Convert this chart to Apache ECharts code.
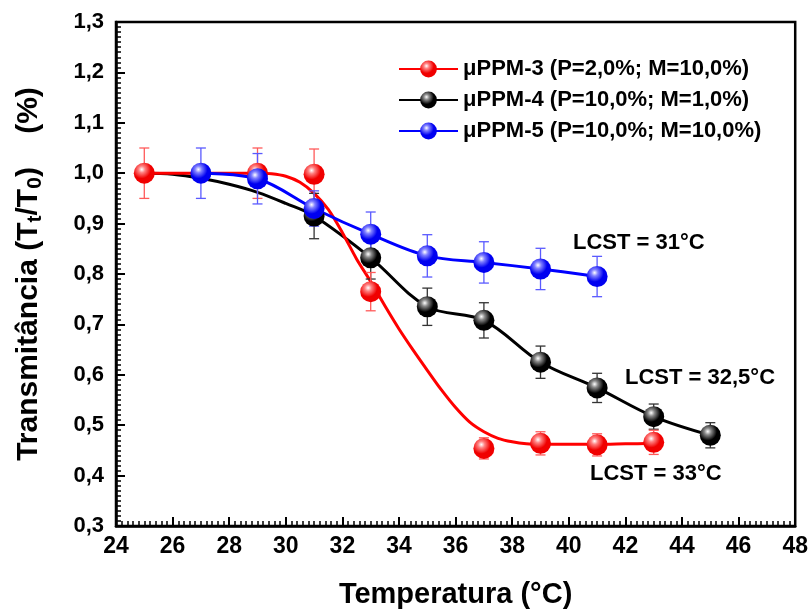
<!DOCTYPE html>
<html>
<head>
<meta charset="utf-8">
<script src="https://cdn.jsdelivr.net/npm/echarts@6/dist/echarts.min.js"></script>
<style>
  html, body { margin: 0; background: #fff; }
  #chart { width: 811px; height: 614px; }
</style>
</head>
<body>
<div id="chart"></div>
<script>
// measured points: [temperatura, transmitancia, erro]
var ppm3Points = [[25, 1.0, 0.05], [29, 1.0, 0.05], [31, 0.998, 0.05], [33, 0.765, 0.038],
  [37, 0.454, 0.021], [39, 0.464, 0.023], [41, 0.461, 0.022], [43, 0.466, 0.024]];
var ppm4Points = [[31, 0.915, 0.045], [33, 0.832, 0.042], [35, 0.735, 0.037], [37, 0.708, 0.035],
  [39, 0.625, 0.032], [41, 0.574, 0.029], [43, 0.517, 0.025], [45, 0.48, 0.025]];
var ppm5Points = [[27, 1.0, 0.05], [29, 0.989, 0.05], [31, 0.93, 0.035], [33, 0.879, 0.044],
  [35, 0.836, 0.042], [37, 0.823, 0.041], [39, 0.81, 0.041], [41, 0.795, 0.04]];

// fitted curves
var ppm3Fit = [[25, 1.0], [26, 1.0], [27, 1.0], [28, 1.0], [29, 1.0], [29.5, 0.999], [30, 0.994],
  [30.5, 0.982], [31, 0.96], [31.5, 0.928], [32, 0.882], [32.5, 0.83], [33, 0.785], [33.5, 0.737],
  [34, 0.691], [34.5, 0.649], [35, 0.609], [35.5, 0.57], [36, 0.535], [36.5, 0.506], [37, 0.487],
  [37.5, 0.474], [38, 0.467], [38.5, 0.463], [39, 0.462], [40, 0.462], [41, 0.462], [42, 0.463], [43, 0.464]];
var ppm4Fit = [[25, 1.0], [26, 0.998], [27, 0.99], [28, 0.978], [29, 0.962], [30, 0.94], [31, 0.915],
  [33, 0.832], [35, 0.735], [37, 0.708], [39, 0.625], [41, 0.574], [43, 0.517], [45, 0.48]];
var ppm5Fit = [[27, 1.0], [29, 0.989], [31, 0.93], [33, 0.879], [35, 0.836], [37, 0.823], [39, 0.81], [41, 0.795]];

var seriesNames = ["μPPM-3 (P=2,0%; M=10,0%)", "μPPM-4 (P=10,0%; M=1,0%)", "μPPM-5 (P=10,0%; M=10,0%)"];
var xMin = 24, xMax = 48, xStep = 2;
var yMin = 0.3, yMax = 1.3, yStep = 0.1;

var FONT = "'Liberation Sans', Arial, sans-serif";

function ball(base, mid) {
  return new echarts.graphic.RadialGradient(0.38, 0.32, 0.72, [
    { offset: 0, color: "#ffffff" },
    { offset: 0.22, color: mid },
    { offset: 0.6, color: base },
    { offset: 1, color: base }
  ]);
}

function fitLine(name, data, color, fill, smooth) {
  return {
    name: name,
    type: "line",
    data: data,
    smooth: smooth,
    symbol: "circle",
    symbolSize: 20,
    showSymbol: false,
    lineStyle: { color: color, width: 3 },
    itemStyle: { color: fill },
    z: 2,
    silent: true
  };
}

function errorBars(points, color) {
  return {
    type: "custom",
    data: points.map(function (p) { return [p[0], p[1] - p[2], p[1] + p[2]]; }),
    renderItem: function (params, api) {
      var lo = api.coord([api.value(0), api.value(1)]);
      var hi = api.coord([api.value(0), api.value(2)]);
      var w = 5;
      var st = { stroke: color, lineWidth: 1.3 };
      return {
        type: "group",
        children: [
          { type: "line", shape: { x1: lo[0], y1: lo[1], x2: hi[0], y2: hi[1] }, style: st },
          { type: "line", shape: { x1: lo[0] - w, y1: lo[1], x2: lo[0] + w, y2: lo[1] }, style: st },
          { type: "line", shape: { x1: hi[0] - w, y1: hi[1], x2: hi[0] + w, y2: hi[1] }, style: st }
        ]
      };
    },
    z: 3,
    silent: true
  };
}

function markers(name, points, fill) {
  return {
    name: name + " ",
    type: "scatter",
    data: points.map(function (p) { return [p[0], p[1]]; }),
    symbolSize: 21,
    itemStyle: { color: fill, opacity: 1 },
    z: 4,
    silent: true
  };
}

var redBall = ball("#f00000", "#ff8080");
var blackBall = ball("#000000", "#8a8a8a");
var blueBall = ball("#0000f0", "#8080ff");

var chart = echarts.init(document.getElementById("chart"));
chart.setOption({
  animation: false,
  backgroundColor: "#ffffff",
  grid: {
    left: 116, right: 14, top: 22, bottom: 86,
    show: true, borderColor: "#000", borderWidth: 2.5
  },
  legend: {
    data: seriesNames,
    orient: "vertical",
    left: 393,
    top: 53,
    itemWidth: 59,
    itemHeight: 21,
    itemGap: 9,
    textStyle: { fontFamily: FONT, fontWeight: "bold", fontSize: 22, color: "#000" }
  },
  xAxis: {
    type: "value",
    min: xMin, max: xMax, interval: xStep,
    axisLine: { lineStyle: { color: "#000", width: 2.5 } },
    axisTick: { inside: true, length: 9, lineStyle: { color: "#000", width: 2 } },
    minorTick: { show: true, splitNumber: 10, length: 5, lineStyle: { color: "#000", width: 1.5 } },
    splitLine: { show: false },
    axisLabel: { margin: 9, color: "#000", fontFamily: FONT, fontWeight: "bold", fontSize: 23 },
    name: "Temperatura (°C)",
    nameLocation: "middle",
    nameGap: 54,
    nameTextStyle: { color: "#000", fontFamily: FONT, fontWeight: "bold", fontSize: 29 }
  },
  yAxis: {
    type: "value",
    min: yMin, max: yMax, interval: yStep,
    axisLine: { lineStyle: { color: "#000", width: 2.5 } },
    axisTick: { inside: true, length: 9, lineStyle: { color: "#000", width: 2 } },
    minorTick: { show: true, splitNumber: 10, length: 5, lineStyle: { color: "#000", width: 1.5 } },
    splitLine: { show: false },
    axisLabel: {
      margin: 12, color: "#000", fontFamily: FONT, fontWeight: "bold", fontSize: 22,
      formatter: function (v) { return v.toFixed(1).replace(".", ","); }
    },
    name: "Transmitância (T{sub|t}/T{sub|0})    (%)",
    nameLocation: "middle",
    nameGap: 70,
    nameTextStyle: {
      color: "#000", fontFamily: FONT, fontWeight: "bold", fontSize: 30,
      rich: {
        sub: { fontFamily: FONT, fontWeight: "bold", fontSize: 21, color: "#000", verticalAlign: "bottom", padding: [14, 0, 0, 0] }
      }
    }
  },
  graphic: [
    { type: "text", left: 573, top: 232, style: { text: "LCST = 31°C", font: "bold 22px " + FONT, fill: "#000" } },
    { type: "text", left: 625, top: 367, style: { text: "LCST = 32,5°C", font: "bold 22px " + FONT, fill: "#000" } },
    { type: "text", left: 590, top: 463, style: { text: "LCST = 33°C", font: "bold 22px " + FONT, fill: "#000" } }
  ],
  series: [
    fitLine(seriesNames[1], ppm4Fit, "#000000", blackBall, 0.35),
    fitLine(seriesNames[0], ppm3Fit, "#ff0000", redBall, 0.3),
    fitLine(seriesNames[2], ppm5Fit, "#0000ff", blueBall, 0.35),
    errorBars(ppm4Points, "#333333"),
    errorBars(ppm3Points, "#ff5a5a"),
    errorBars(ppm5Points, "#5a5aff"),
    markers(seriesNames[1], ppm4Points, blackBall),
    markers(seriesNames[0], ppm3Points, redBall),
    markers(seriesNames[2], ppm5Points, blueBall)
  ]
});
</script>
</body>
</html>
